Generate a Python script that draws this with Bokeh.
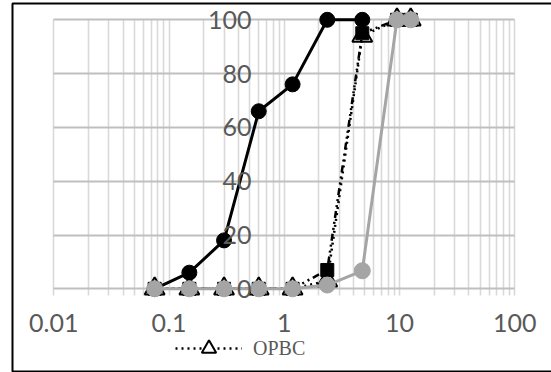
from bokeh.plotting import figure
from bokeh.models import Range1d, FixedTicker, Legend, LegendItem, BoxAnnotation
from bokeh.embed import file_html
from bokeh.resources import INLINE

# ---- data ----
sizes = [0.075, 0.15, 0.3, 0.6, 1.18, 2.36, 4.75, 9.5, 12.5]
sizes_a = [0.075, 0.15, 0.3, 0.6, 1.18, 2.36, 4.75]
series_a = [0, 6, 18, 66, 76, 100, 100]            # black circles, solid line
series_b = [0, 0, 0, 0, 0, 7, 95, 100, 100]        # black squares, dash-dot-dot
series_c = [0, 0, 0, 0, 0, 1.4, 6.7, 100, 100]     # grey circles, solid grey
series_opbc = [0, 0, 0, 0, 0, 3, 94, 100, 100]     # OPBC: open triangles, dotted

x_ticks = [0.01, 0.1, 1, 10, 100]
x_tick_labels = ["0.01", "0.1", "1", "10", "100"]
x_minor = [m * d for d in [0.01, 0.1, 1, 10] for m in range(2, 10)]
y_ticks = [0, 20, 40, 60, 80, 100]
y_tick_labels = ["0", "20", "40", "60", "80", "100"]
legend_label = "OPBC"

# ---- layout constants (page pixels) ----
W, H = 551, 372
X_ONE_PX = 283.8      # where x = 1 sits
X_DEC_PX = 115.25     # pixels per decade
Y_ZERO_PX = 288.3     # where y = 0 sits
Y_UNIT_PX = 2.69      # pixels per y unit

def x_at(px):
    return 10 ** ((px - X_ONE_PX) / X_DEC_PX)

def y_at(py):
    return (Y_ZERO_PX - py) / Y_UNIT_PX

LABEL_COLOR = "#595959"
AXIS_FONT = "Lato"

p = figure(width=W, height=H, x_axis_type="log",
           x_range=Range1d(x_at(0), x_at(W)), y_range=Range1d(y_at(H), y_at(0)),
           output_backend="svg", toolbar_location=None,
           min_border_left=0, min_border_right=0,
           min_border_top=0, min_border_bottom=0)
p.outline_line_color = None
p.background_fill_color = "white"
p.border_fill_color = "white"

xticker = FixedTicker(ticks=x_ticks, minor_ticks=x_minor)
yticker = FixedTicker(ticks=y_ticks, minor_ticks=[])

# x axis at y = 0 (labels only; line/ticks come from the grids)
xa = p.xaxis[0]
xa.ticker = xticker
xa.fixed_location = 0
xa.axis_line_color = None
xa.major_tick_line_color = None
xa.minor_tick_line_color = None
xa.major_tick_in = 0
xa.major_tick_out = 0
xa.major_label_overrides = {t: l for t, l in zip(x_ticks, x_tick_labels)}
xa.major_label_text_font = AXIS_FONT
xa.major_label_text_font_size = "25px"
xa.major_label_text_color = LABEL_COLOR
xa.major_label_standoff = 21

# y axis labels placed inside the plot
ya = p.yaxis[0]
ya.ticker = yticker
ya.fixed_location = 0.563
ya.axis_line_color = None
ya.major_tick_line_color = None
ya.minor_tick_line_color = None
ya.major_tick_in = 0
ya.major_tick_out = 0
ya.major_label_overrides = {t: l for t, l in zip(y_ticks, y_tick_labels)}
ya.major_label_text_font = AXIS_FONT
ya.major_label_text_font_size = "25px"
ya.major_label_text_color = LABEL_COLOR
ya.major_label_standoff = 4

# grids (vertical lines run 7px below the 0 line, like tick marks)
p.xgrid.ticker = xticker
p.xgrid.grid_line_color = "#d9d9d9"
p.xgrid.grid_line_width = 1.6
p.xgrid.minor_grid_line_color = "#d9d9d9"
p.xgrid.minor_grid_line_width = 1.6
p.xgrid.cross_bounds = (-7 / Y_UNIT_PX, 100)
p.ygrid.ticker = yticker
p.ygrid.grid_line_color = "#bfbfbf"
p.ygrid.grid_line_width = 1.8
p.ygrid.cross_bounds = (0.01, 100)

# series (drawn bottom to top)
ld = p.line(sizes, series_opbc, line_color="black", line_width=2.5, line_dash="2 4")
sd = p.scatter(sizes, series_opbc, marker="triangle", size=20,
               fill_color="white", line_color="black", line_width=2)

p.line(sizes, series_b, line_color="black", line_width=2.5, line_dash="7 4 2 4 2 4")
p.scatter(sizes, series_b, marker="square", size=13, fill_color="black", line_color="black")

p.line(sizes_a, series_a, line_color="black", line_width=3)
p.scatter(sizes_a, series_a, marker="circle", size=15, fill_color="black", line_color="black")

p.line(sizes, series_c, line_color="#a5a5a5", line_width=3)
p.scatter(sizes, series_c, marker="circle", size=16, fill_color="#a5a5a5", line_color="#a5a5a5")

legend = Legend(items=[LegendItem(label=legend_label, renderers=[ld, sd])],
                location=(175, 6), orientation="horizontal",
                glyph_width=67, glyph_height=36, label_standoff=11,
                padding=0, margin=0, spacing=0,
                label_text_font="Liberation Serif", label_text_font_size="20px",
                label_text_color=LABEL_COLOR,
                background_fill_alpha=0, border_line_color=None)
p.add_layout(legend, "center")

# chart border (left, top and bottom edges visible)
border = BoxAnnotation(left=x_at(12), right=x_at(W + 20), top=y_at(3), bottom=y_at(371),
                       fill_alpha=0, line_color="black", line_alpha=1.0, line_width=2)
p.add_layout(border)

open("out.html", "w").write(file_html(p, INLINE))
